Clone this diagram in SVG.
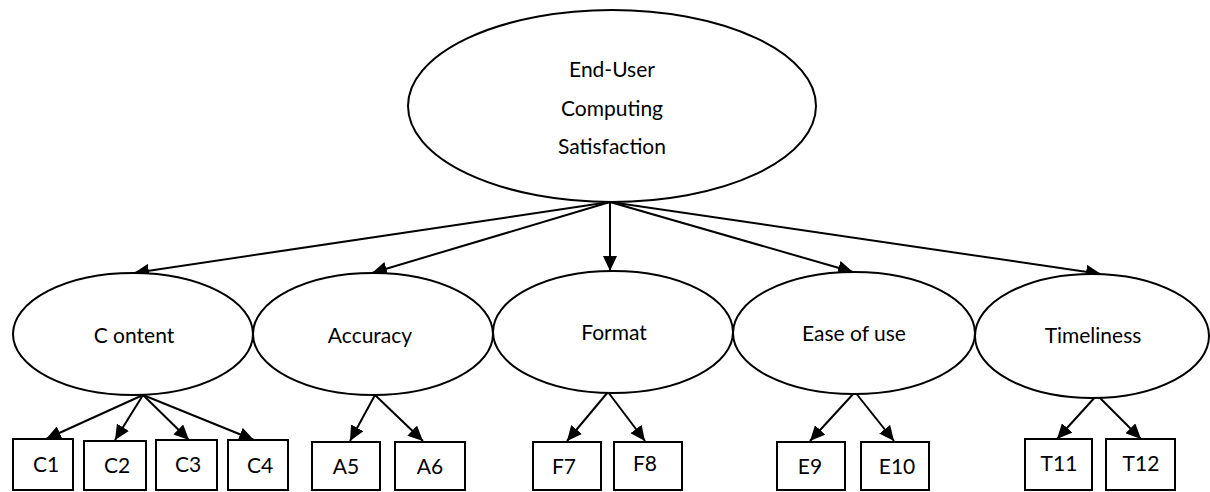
<svg xmlns="http://www.w3.org/2000/svg" width="1210" height="492" viewBox="0 0 1210 492">
  <style>
    .shape { fill: #ffffff; stroke: #000000; stroke-width: 2; }
    .edge { fill: none; stroke: #000000; stroke-width: 2; marker-end: url(#arrow); }
    .lbl { font-family: Lato, "Open Sans", sans-serif; font-size: 21px; fill: #000000; text-anchor: middle; }
  </style>
  <defs>
    <marker id="arrow" markerUnits="userSpaceOnUse" markerWidth="16" markerHeight="14" refX="15" refY="7" orient="auto">
      <path d="M0,0 L15,7 L0,14 z" fill="#000000"/>
    </marker>
  </defs>
  <rect width="1210" height="492" fill="#ffffff"/>

  <g id="connectors">
    <!-- overall construct to the five dimensions -->
    <line class="edge" x1="610" y1="202" x2="134" y2="273"/>
    <line class="edge" x1="610" y1="202" x2="372" y2="273"/>
    <line class="edge" x1="610" y1="202" x2="610" y2="271"/>
    <line class="edge" x1="610" y1="202" x2="853" y2="272"/>
    <line class="edge" x1="610" y1="202" x2="1101" y2="274"/>
    <!-- dimensions to items -->
    <line class="edge" x1="143" y1="395" x2="46" y2="439"/>
    <line class="edge" x1="143" y1="395" x2="115" y2="440"/>
    <line class="edge" x1="143" y1="395" x2="189" y2="440"/>
    <line class="edge" x1="143" y1="395" x2="254" y2="440"/>
    <line class="edge" x1="375" y1="395" x2="350" y2="441"/>
    <line class="edge" x1="375" y1="395" x2="423" y2="441"/>
    <line class="edge" x1="608" y1="392" x2="567" y2="441"/>
    <line class="edge" x1="608" y1="392" x2="645" y2="441"/>
    <line class="edge" x1="855" y1="392" x2="810" y2="441"/>
    <line class="edge" x1="855" y1="392" x2="894" y2="441"/>
    <line class="edge" x1="1097" y1="395" x2="1057" y2="439"/>
    <line class="edge" x1="1097" y1="395" x2="1141" y2="439"/>
  </g>

  <g id="eucs">
    <ellipse class="shape" cx="612" cy="106" rx="204" ry="96"/>
    <text class="lbl" x="612" y="77">End-User</text>
    <text class="lbl" x="612" y="116">Computing</text>
    <text class="lbl" x="612" y="154">Satisfaction</text>
  </g>

  <g id="content">
    <ellipse class="shape" cx="133" cy="334" rx="120" ry="61"/>
    <text class="lbl" x="134" y="343">C ontent</text>
  </g>
  <g id="accuracy">
    <ellipse class="shape" cx="373" cy="334" rx="120" ry="61"/>
    <text class="lbl" x="370" y="343">Accuracy</text>
  </g>
  <g id="format">
    <ellipse class="shape" cx="613" cy="332" rx="120" ry="61"/>
    <text class="lbl" x="614" y="340">Format</text>
  </g>
  <g id="ease">
    <ellipse class="shape" cx="854" cy="333" rx="121" ry="61"/>
    <text class="lbl" x="854" y="341">Ease of use</text>
  </g>
  <g id="timeliness">
    <ellipse class="shape" cx="1092" cy="336" rx="117" ry="62"/>
    <text class="lbl" x="1093" y="343">Timeliness</text>
  </g>

  <g id="c1"><rect class="shape" x="13" y="439" width="60" height="51"/><text class="lbl" x="46" y="472">C1</text></g>
  <g id="c2"><rect class="shape" x="84" y="441" width="62" height="49"/><text class="lbl" x="117" y="473">C2</text></g>
  <g id="c3"><rect class="shape" x="156" y="440" width="61" height="50"/><text class="lbl" x="188" y="472">C3</text></g>
  <g id="c4"><rect class="shape" x="228" y="440" width="60" height="50"/><text class="lbl" x="260" y="473">C4</text></g>
  <g id="a5"><rect class="shape" x="312" y="442" width="68" height="48"/><text class="lbl" x="346" y="474">A5</text></g>
  <g id="a6"><rect class="shape" x="395" y="442" width="70" height="48"/><text class="lbl" x="430" y="474">A6</text></g>
  <g id="f7"><rect class="shape" x="533" y="442" width="68" height="48"/><text class="lbl" x="564" y="474">F7</text></g>
  <g id="f8"><rect class="shape" x="614" y="442" width="68" height="48"/><text class="lbl" x="645" y="471">F8</text></g>
  <g id="e9"><rect class="shape" x="777" y="442" width="68" height="48"/><text class="lbl" x="810" y="474">E9</text></g>
  <g id="e10"><rect class="shape" x="861" y="442" width="68" height="48"/><text class="lbl" x="897" y="474">E10</text></g>
  <g id="t11"><rect class="shape" x="1025" y="439" width="67" height="51"/><text class="lbl" x="1059" y="471">T11</text></g>
  <g id="t12"><rect class="shape" x="1106" y="439" width="69" height="51"/><text class="lbl" x="1141" y="471">T12</text></g>
</svg>
